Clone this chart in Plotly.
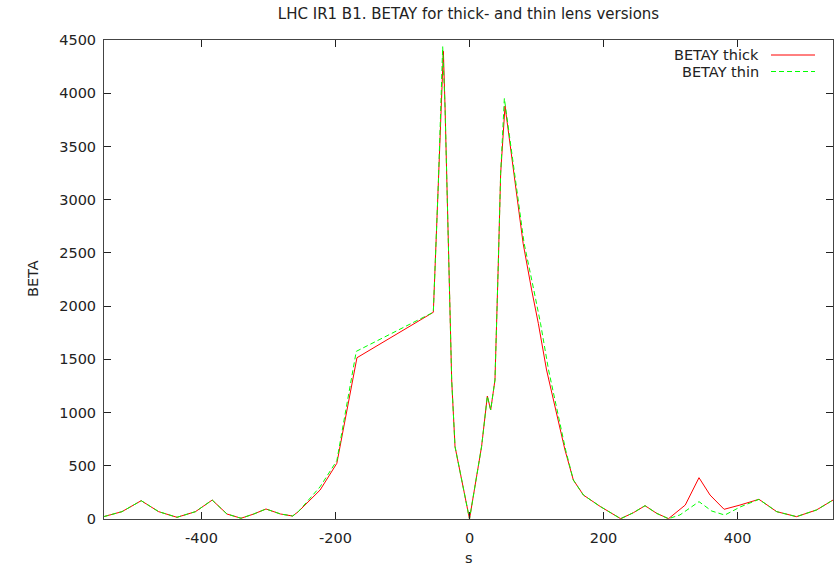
import plotly.graph_objects as go

# ---- data ----
thick_s = [-546, -518.7, -490, -463.9, -436.6, -409, -384, -362, -341, -322, -303.7, -282, -264,
           -255.5, -223, -198, -168, -54, -46.5, -39, -36.5, -31.6, -26.6, -21.6, 0,
           18, 23, 26.6, 31.6, 38, 43, 46.5, 53, 70.4, 80, 92.8, 102.7, 115, 127.6, 142.5, 155, 170,
           195, 225.6, 244.5, 262, 279.4, 297, 322, 342.5, 359, 380, 403.7, 432, 458.5, 488, 518, 542.5]
thick_beta = [22, 69, 172, 69, 16, 69, 178, 47, 7, 47, 94, 47, 28,
              69, 272, 523, 1515, 1942, 3157, 4395, 3870, 2720, 1306, 680, 0,
              680, 996, 1155, 1024, 1306, 2405, 3248, 3880, 3028, 2590, 2151, 1838, 1400, 1055, 648, 366, 225,
              118, 3, 59, 125, 53, 3, 131, 388, 225, 91, 131, 185, 69, 22, 85, 178]

thin_s = [-546, -518.7, -490, -463.9, -436.6, -409, -384, -362, -341, -322, -303.7, -282, -264,
          -255.5, -223, -198, -169, -54, -46.5, -40, -36.5, -31.6, -26.6, -21.6, 0,
          18, 23, 26.6, 31.6, 38, 43, 46.5, 52, 71.5, 81.5, 96, 106, 118, 130, 143.5, 155, 170,
          195, 225.6, 244.5, 262, 279.4, 297, 314, 342.5, 361.5, 381, 404, 432, 458.5, 488, 518, 542.5]
thin_beta = [22, 69, 172, 69, 16, 69, 178, 47, 7, 47, 94, 47, 28,
             69, 303, 548, 1575, 1942, 3157, 4437, 3870, 2720, 1306, 680, 0,
             680, 996, 1155, 1024, 1306, 2405, 3248, 3952, 3028, 2590, 2151, 1838, 1400, 1055, 648, 366, 225,
             118, 3, 59, 125, 53, 3, 38, 163, 75, 37, 113, 185, 69, 22, 85, 178]

x_ticks = [-400, -200, 0, 200, 400]
y_ticks = [0, 500, 1000, 1500, 2000, 2500, 3000, 3500, 4000, 4500]

title_text = "LHC IR1 B1. BETAY for thick- and thin lens versions"
legend_names = ["BETAY thick", "BETAY thin"]
RED = "#ff0000"
GREEN = "#00ff00"
FONT = "DejaVu Sans"
FS = 14.5
TXT = "#222222"

W, H = 838, 567
L, R, T, B = 104, 833, 40, 519
PW, PH = R - L, B - T

fig = go.Figure()
fig.add_trace(go.Scatter(x=thick_s, y=thick_beta, mode="lines", name=legend_names[0],
                         line=dict(color=RED, width=1), showlegend=False))
fig.add_trace(go.Scatter(x=thin_s, y=thin_beta, mode="lines", name=legend_names[1],
                         line=dict(color=GREEN, width=1, dash="5px,3px"), showlegend=False))

axis_common = dict(showgrid=False, zeroline=False, showline=True, linecolor="#444444", linewidth=1,
                   mirror="ticks", ticks="inside", ticklen=7, tickcolor="#222222",
                   tickfont=dict(family=FONT, size=FS, color=TXT), automargin=False)

fig.update_xaxes(range=[-545.5, 542.5], tickvals=x_ticks, ticktext=[str(v) for v in x_ticks],
                 ticklabelstandoff=6, **axis_common)
fig.update_yaxes(range=[0, 4500], tickvals=y_ticks, ticktext=[str(v) for v in y_ticks],
                 ticklabelstandoff=4, **axis_common)

# axis titles as annotations (gnuplot positions)
fig.add_annotation(xref="paper", yref="paper", x=(468.5 - L) / PW, y=(B - 558) / PH,
                   text="s", showarrow=False, xanchor="center", yanchor="middle",
                   font=dict(family=FONT, size=FS, color=TXT))
fig.add_annotation(xref="paper", yref="paper", x=(33 - L) / PW, y=(B - 279) / PH,
                   text="BETA", showarrow=False, xanchor="center", yanchor="middle", textangle=-90,
                   font=dict(family=FONT, size=FS, color=TXT))

# gnuplot-style legend: text right-aligned, line sample on the right
legend_rows = [(legend_names[0], RED, "solid"), (legend_names[1], GREEN, "5px,3px")]
for i, (name, col, dash) in enumerate(legend_rows):
    yy = (B - (55 + i * 16.5)) / PH
    fig.add_annotation(xref="paper", yref="paper", x=(761 - L) / PW, y=yy, text=name,
                       showarrow=False, xanchor="right", yanchor="middle",
                       font=dict(family=FONT, size=FS, color=TXT))
    fig.add_shape(type="line", xref="paper", yref="paper",
                  x0=(771 - L) / PW, x1=(815 - L) / PW, y0=yy, y1=yy,
                  line=dict(color=col, width=1, dash=dash))

fig.update_layout(
    width=W, height=H,
    margin=dict(l=L, r=W - R, t=T, b=H - B, autoexpand=False),
    paper_bgcolor="white", plot_bgcolor="white",
    title=dict(text=title_text, x=468.5 / W, xanchor="center", y=1 - 14 / H,
               yanchor="middle", font=dict(family=FONT, size=15, color=TXT)),
    showlegend=False,
)

fig.write_html("out.html", config={"displayModeBar": False},
               post_script="document.body.style.margin='0';document.body.style.padding='0';")
